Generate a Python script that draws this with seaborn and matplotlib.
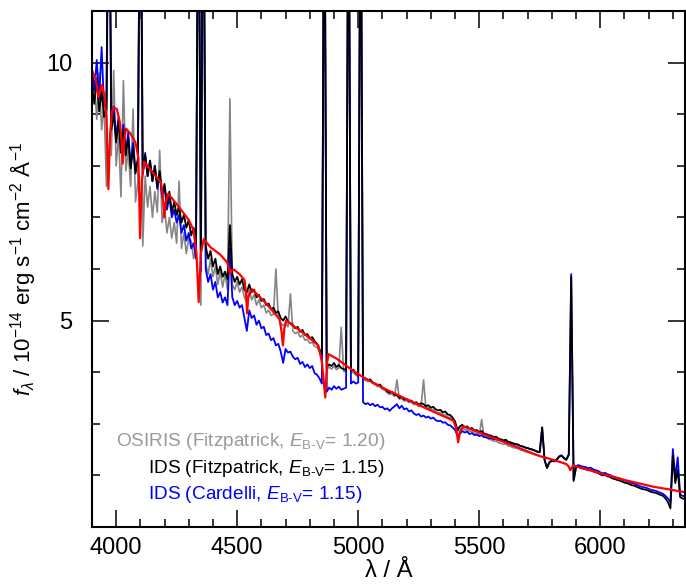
import numpy as np
import pandas as pd
import matplotlib
matplotlib.use("Agg")
import matplotlib.pyplot as plt
from matplotlib.ticker import MultipleLocator
import seaborn as sns

# ---------------- data ----------------
wave = list(range(3900, 6351, 10))

ids_fitz = [
 9.55, 9.20, 9.70, 9.05, 9.45, 8.95, 9.10, 15.0, 8.70, 9.00,   # 3900-3990
 8.45, 8.85, 8.25, 8.70, 8.20, 8.55, 7.95, 8.35, 7.85, 8.10,   # 4000-4090
 15.0, 7.85, 8.20, 7.80, 8.10, 7.70, 8.00, 7.60, 7.90, 7.45,   # 4100-4190
 7.65, 7.25, 7.50, 7.10, 7.30, 7.05, 7.20, 6.90, 7.05, 6.80,   # 4200-4290
 6.95, 6.65, 6.80, 6.50, 15.0, 6.35, 15.0, 6.45, 6.20, 6.35,   # 4300-4390
 6.05, 6.20, 5.90, 6.05, 5.85, 5.95, 5.80, 6.85, 5.90, 5.75,   # 4400-4490
 5.85, 5.70, 5.80, 5.60, 5.55, 5.70, 5.55, 5.60, 5.45, 5.50,   # 4500-4590
 5.38, 5.42, 5.30, 5.33, 5.22, 5.25, 5.15, 5.18, 5.05, 5.00,   # 4600-4690
 5.08, 4.98, 4.95, 4.92, 4.85, 4.88, 4.78, 4.82, 4.72, 4.74,   # 4700-4790
 4.66, 4.68, 4.60, 4.55, 4.45, 4.35, 15.0, 4.10, 4.15, 4.12,   # 4800-4890
 4.18, 4.10, 4.14, 4.08, 4.06, 4.04, 15.0, 4.02, 4.05, 3.98,   # 4900-4990
 3.95, 15.0, 3.90, 3.88, 3.85, 3.86, 3.80, 3.78, 3.75, 3.76,   # 5000-5090
 3.70, 3.68, 3.63, 3.60, 3.62, 3.56, 3.55, 3.50, 3.52, 3.47,   # 5100-5190
 3.48, 3.44, 3.45, 3.40, 3.42, 3.37, 3.40, 3.38, 3.34, 3.36,   # 5200-5290
 3.31, 3.33, 3.28, 3.26, 3.27, 3.22, 3.24, 3.18, 3.17, 3.12,   # 5300-5390
 3.05, 2.88, 2.95, 2.98, 2.93, 2.95, 2.90, 2.92, 2.87, 2.88,   # 5400-5490
 2.84, 2.86, 2.81, 2.80, 2.78, 2.77, 2.74, 2.75, 2.71, 2.70,   # 5500-5590
 2.68, 2.69, 2.65, 2.64, 2.62, 2.61, 2.60, 2.57, 2.56, 2.54,   # 5600-5690
 2.53, 2.51, 2.50, 2.48, 2.46, 2.45, 2.93, 2.30, 2.14, 2.25,   # 5700-5790
 2.28, 2.27, 2.30, 2.36, 2.38, 2.33, 2.30, 2.40, 5.85, 1.89,   # 5800-5890
 2.15, 2.17, 2.14, 2.13, 2.12, 2.10, 2.11, 2.08, 2.06, 2.05,   # 5900-5990
 2.02, 2.00, 2.01, 1.98, 1.97, 1.94, 1.93, 1.91, 1.90, 1.88,   # 6000-6090
 1.86, 1.85, 1.83, 1.81, 1.80, 1.78, 1.76, 1.74, 1.73, 1.72,   # 6100-6190
 1.70, 1.68, 1.67, 1.66, 1.64, 1.62, 1.60, 1.55, 1.48, 1.36,   # 6200-6290
 2.38, 1.85, 2.10, 1.58, 1.55, 1.55]                           # 6300-6350

ids_card = [
 9.90, 9.45, 10.05, 9.30, 10.30, 9.15, 9.25, 15.0, 8.85, 9.15,
 8.55, 8.95, 8.35, 8.80, 8.25, 8.65, 8.00, 8.45, 7.90, 8.15,
 15.0, 7.85, 8.25, 7.80, 8.10, 7.70, 8.00, 7.55, 7.85, 7.40,
 7.60, 7.15, 7.40, 7.00, 7.15, 6.90, 7.05, 6.70, 6.85, 6.55,
 6.70, 6.40, 6.50, 6.20, 15.0, 5.95, 15.0, 6.00, 5.75, 5.90,
 5.60, 5.75, 5.45, 5.55, 5.35, 5.45, 5.30, 6.40, 5.45, 5.30,
 5.38, 5.25, 5.30, 5.05, 4.80, 5.20, 5.05, 5.10, 4.92, 5.00,
 4.85, 4.88, 4.72, 4.75, 4.62, 4.66, 4.52, 4.55, 4.40, 4.18,
 4.45, 4.38, 4.40, 4.30, 4.25, 4.28, 4.16, 4.20, 4.10, 4.15,
 4.08, 4.12, 3.98, 3.95, 3.88, 3.78, 15.0, 3.62, 3.70, 3.66,
 3.73, 3.68, 3.72, 3.66, 3.68, 3.70, 15.0, 3.78, 3.82, 3.78,
 3.80, 15.0, 3.42, 3.38, 3.40, 3.36, 3.39, 3.34, 3.37, 3.32,
 3.33, 3.28, 3.30, 3.25, 3.30, 3.34, 3.38, 3.30, 3.35, 3.28,
 3.30, 3.24, 3.26, 3.20, 3.17, 3.19, 3.14, 3.16, 3.12, 3.14,
 3.10, 3.12, 3.07, 3.05, 3.06, 3.02, 3.03, 2.98, 2.97, 2.93,
 2.88, 2.78, 2.80, 2.86, 2.83, 2.85, 2.80, 2.82, 2.78, 2.79,
 2.76, 2.78, 2.74, 2.74, 2.72, 2.72, 2.70, 2.71, 2.68, 2.68,
 2.66, 2.67, 2.64, 2.63, 2.61, 2.60, 2.59, 2.57, 2.56, 2.54,
 2.53, 2.51, 2.50, 2.48, 2.46, 2.45, 2.93, 2.30, 2.15, 2.26,
 2.29, 2.28, 2.31, 2.37, 2.39, 2.34, 2.31, 2.41, 5.90, 1.92,
 2.18, 2.20, 2.18, 2.17, 2.16, 2.14, 2.15, 2.12, 2.10, 2.09,
 2.06, 2.04, 2.05, 2.02, 2.01, 1.98, 1.97, 1.95, 1.94, 1.92,
 1.90, 1.89, 1.87, 1.85, 1.84, 1.82, 1.80, 1.78, 1.77, 1.76,
 1.74, 1.72, 1.71, 1.70, 1.68, 1.66, 1.64, 1.60, 1.55, 1.48,
 2.51, 1.95, 2.35, 1.64, 1.60, 1.60]

osiris_wave = list(range(3900, 5751, 10))
osiris_fitz = [
 9.30, 9.60, 8.90, 9.80, 8.70, 9.20, 7.60, 15.0, 8.20, 9.85,
 8.00, 8.60, 7.40, 9.65, 7.90, 8.30, 7.60, 9.10, 7.30, 7.70,
 15.0, 6.45, 7.80, 7.20, 7.60, 7.00, 7.50, 7.10, 8.30, 6.90,
 7.20, 6.70, 7.00, 6.60, 6.90, 6.50, 7.70, 6.40, 6.70, 6.30,
 6.60, 6.55, 6.20, 6.35, 15.0, 5.30, 15.0, 6.10, 5.90, 6.20,
 5.85, 6.05, 5.70, 5.95, 5.65, 5.90, 5.60, 9.30, 5.70, 5.60,
 5.75, 5.55, 5.65, 5.45, 5.35, 5.60, 5.40, 5.50, 5.30, 5.40,
 5.25, 5.30, 5.15, 5.20, 5.10, 5.12, 6.00, 5.05, 4.95, 4.90,
 4.95, 4.88, 5.52, 4.80, 4.75, 4.78, 4.68, 4.72, 4.62, 4.64,
 4.56, 4.58, 4.50, 4.48, 4.40, 4.25, 15.0, 4.05, 4.10, 4.06,
 4.12, 4.05, 4.08, 4.87, 4.02, 4.00, 15.0, 3.98, 4.00, 3.94,
 3.92, 15.0, 3.86, 3.84, 3.82, 3.83, 3.78, 3.76, 3.72, 3.73,
 3.67, 3.65, 3.60, 3.57, 3.58, 3.53, 3.85, 3.48, 3.49, 3.44,
 3.45, 3.41, 3.42, 3.37, 3.38, 3.33, 3.35, 3.85, 3.30, 3.31,
 3.27, 3.28, 3.23, 3.21, 3.22, 3.17, 3.18, 3.13, 3.12, 3.07,
 3.00, 2.85, 2.90, 2.93, 2.88, 2.89, 2.85, 2.86, 2.81, 2.82,
 2.78, 3.08, 2.75, 2.73, 2.70, 2.69, 2.66, 2.67, 2.63, 2.62,
 2.60, 2.61, 2.57, 2.56, 2.54, 2.53, 2.52, 2.49, 2.48, 2.46,
 2.45, 2.43, 2.42, 2.40, 2.39, 2.38]

model_wave = [3900, 3915, 3927, 3934, 3941, 3952, 3960, 3968, 3975, 3983,
              3990, 4003, 4015, 4022, 4027, 4033, 4041, 4060, 4080, 4092,
              4099, 4106, 4116, 4150, 4185, 4193, 4199, 4205, 4215, 4260,
              4300, 4320, 4332, 4341, 4350, 4362, 4390, 4430, 4460, 4467,
              4472, 4477, 4486, 4510, 4531, 4537, 4541, 4546, 4561, 4620,
              4675, 4683, 4689, 4695, 4702, 4770, 4835, 4850, 4864, 4872,
              4877, 4912, 4970, 5021, 5100, 5167, 5280, 5394, 5405, 5413,
              5421, 5435, 5600, 5752, 5793, 5860, 5870, 5876, 5882, 5890,
              6000, 6110, 6220, 6331, 6355]
model_flux = [9.85, 9.70, 9.33, 9.45, 9.57, 9.35, 8.90, 7.55, 8.60, 9.05,
              9.13, 9.10, 8.85, 8.50, 8.04, 8.50, 8.72, 8.62, 8.45, 8.15,
              6.60, 7.70, 8.08, 7.88, 7.68, 7.40, 7.00, 7.30, 7.46, 7.20,
              6.95, 6.75, 6.30, 5.36, 6.30, 6.58, 6.42, 6.28, 6.12, 5.98,
              5.91, 5.98, 5.99, 5.90, 5.78, 5.50, 5.14, 5.45, 5.61, 5.33,
              5.03, 4.80, 4.52, 4.85, 5.00, 4.77, 4.52, 4.20, 3.51, 4.20,
              4.35, 4.26, 4.06, 3.90, 3.70, 3.55, 3.30, 3.06, 2.90, 2.64,
              2.85, 2.95, 2.65, 2.37, 2.32, 2.22, 2.17, 2.10, 2.15, 2.19,
              2.04, 1.90, 1.78, 1.69, 1.67]

legend_labels = ["OSIRIS (Fitzpatrick, $\\it{E}$$_{\\rm B\\text{-}V}$= 1.20)",
                 "IDS (Fitzpatrick, $\\it{E}$$_{\\rm B\\text{-}V}$= 1.15)",
                 "IDS (Cardelli, $\\it{E}$$_{\\rm B\\text{-}V}$= 1.15)"]
legend_colors = ["#999999", "black", "#0000ff"]

# ---------------- style ----------------
sns.set_theme(style="ticks")
plt.rcParams["font.family"] = ["Liberation Sans", "DejaVu Sans"]
plt.rcParams["mathtext.fontset"] = "custom"
plt.rcParams["mathtext.rm"] = "Liberation Sans"
plt.rcParams["mathtext.it"] = "Liberation Sans:italic"
plt.rcParams["mathtext.bf"] = "Liberation Sans:bold"

fig = plt.figure(figsize=(6.86, 5.86), dpi=100)
ax = fig.add_axes([0.134, 0.1007, 0.8645, 0.8805])

df_os = pd.DataFrame({"wave": osiris_wave, "flux": osiris_fitz})
df_ids = pd.DataFrame({"wave": wave, "fitz": ids_fitz, "card": ids_card})
df_mod = pd.DataFrame({"wave": model_wave, "flux": model_flux})

sns.lineplot(data=df_os, x="wave", y="flux", color="#858585", lw=1.2, ax=ax,
             estimator=None, sort=False)
sns.lineplot(data=df_ids, x="wave", y="card", color="#0000ff", lw=1.3, ax=ax,
             estimator=None, sort=False)
sns.lineplot(data=df_ids, x="wave", y="fitz", color="black", lw=1.3, ax=ax,
             estimator=None, sort=False)
sns.lineplot(data=df_mod, x="wave", y="flux", color="#ff0000", lw=1.6, ax=ax,
             estimator=None, sort=False)

ax.set_xlim(3900, 6350)
ax.set_ylim(1, 11)
ax.xaxis.set_major_locator(MultipleLocator(500))
ax.xaxis.set_minor_locator(MultipleLocator(100))
ax.yaxis.set_major_locator(MultipleLocator(5))
ax.yaxis.set_minor_locator(MultipleLocator(1))
ax.tick_params(which="both", direction="in", top=True, right=True, width=1.1,
               color="black", labelcolor="black")
ax.tick_params(which="major", length=12, labelsize=17)
ax.tick_params(axis="x", which="major", pad=7)
ax.tick_params(axis="y", which="major", pad=14)
ax.tick_params(which="minor", length=6)
for s in ax.spines.values():
    s.set_linewidth(1.5)
    s.set_color("black")

ax.set_xlabel("λ / Å", fontsize=17, labelpad=1, color="black")
ax.set_ylabel("$\\it{f}$$_{\\lambda}$ / 10$^{-14}$ erg s$^{-1}$ cm$^{-2}$ Å$^{-1}$",
              fontsize=16, labelpad=6, color="black")

xs = [4000, 4132, 4132]
ys = [2.65, 2.13, 1.62]
for lab, col, xx, yy in zip(legend_labels, legend_colors, xs, ys):
    ax.text(xx, yy, lab, color=col, fontsize=13.7, ha="left", va="center")

fig.savefig("out.png", dpi=100)
